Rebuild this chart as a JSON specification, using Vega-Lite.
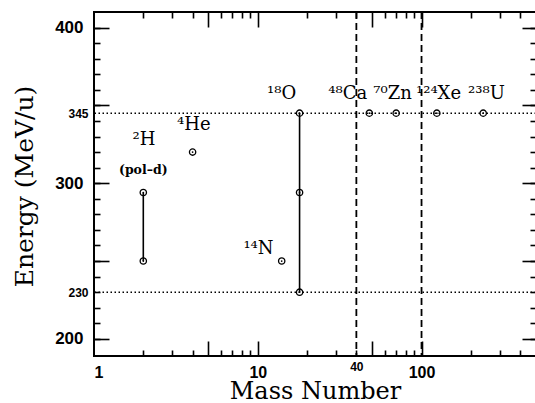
{
  "$schema": "https://vega.github.io/schema/vega-lite/v6.json",
  "autosize": "none",
  "width": 442,
  "height": 344,
  "padding": {"left": 94, "top": 12, "right": 0, "bottom": 47},
  "background": "white",
  "config": {
    "view": {"stroke": "black", "strokeWidth": 2},
    "axis": {
      "domain": false,
      "grid": false,
      "tickColor": "black",
      "tickWidth": 1.6,
      "labelFont": "Liberation Sans",
      "labelFontWeight": "bold",
      "labelColor": "black",
      "titleFont": "DejaVu Serif",
      "titleFontWeight": "normal",
      "titleColor": "black",
      "titleFontSize": 25
    }
  },
  "datasets": {
    "points": [
      {"m": 2, "e": 294}, {"m": 2, "e": 250}, {"m": 4, "e": 320}, {"m": 14, "e": 250},
      {"m": 18, "e": 345}, {"m": 18, "e": 294}, {"m": 18, "e": 230},
      {"m": 48, "e": 345}, {"m": 70, "e": 345}, {"m": 124, "e": 345}, {"m": 238, "e": 345}
    ],
    "segments": [{"m": 2, "e1": 250, "e2": 294}, {"m": 18, "e1": 230, "e2": 345}],
    "labels": [
      {"t": "²H", "m": 2.02, "e": 324.6},
      {"t": "⁴He", "m": 4.07, "e": 334.3},
      {"t": "¹⁴N", "m": 10.1, "e": 254.6},
      {"t": "¹⁸O", "m": 14, "e": 354.1},
      {"t": "⁴⁸Ca", "m": 35.4, "e": 354.1},
      {"t": "⁷⁰Zn", "m": 66.5, "e": 354.1},
      {"t": "¹²⁴Xe", "m": 127, "e": 354.1},
      {"t": "²³⁸U", "m": 249, "e": 354.1}
    ],
    "sublabel": [{"t": "(pol–d)", "m": 2.0, "e": 306}],
    "hlines": [{"e": 345}, {"e": 230}],
    "vlines": [{"m": 40}, {"m": 100}]
  },
  "resolve": {"axis": {"x": "independent", "y": "independent"}},
  "layer": [
    {
      "data": {"name": "hlines"},
      "mark": {"type": "rule", "color": "black", "strokeWidth": 1.5, "strokeDash": [1.5, 2.5]},
      "encoding": {
        "y": {"field": "e", "type": "quantitative",
          "scale": {"domain": [189, 410], "nice": false, "zero": false},
          "axis": {"orient": "right", "values": [200, 250, 300, 350, 400], "tickSize": -14, "labels": false, "title": null}}
      }
    },
    {
      "data": {"name": "vlines"},
      "mark": {"type": "rule", "color": "black", "strokeWidth": 1.8, "strokeDash": [7, 4]},
      "encoding": {
        "x": {"field": "m", "type": "quantitative",
          "scale": {"type": "log", "domain": [1, 500], "nice": false},
          "axis": {"orient": "top", "values": [5, 10, 50, 100], "tickSize": -15, "labels": false, "title": null}}
      }
    },
    {
      "data": {"name": "segments"},
      "mark": {"type": "rule", "color": "black", "strokeWidth": 1.6},
      "encoding": {
        "x": {"field": "m", "type": "quantitative",
          "scale": {"type": "log", "domain": [1, 500], "nice": false},
          "axis": {"orient": "bottom", "values": [5, 10, 50, 100], "tickSize": -15, "labels": false, "title": null}},
        "y": {"field": "e1", "type": "quantitative",
          "scale": {"domain": [189, 410], "nice": false, "zero": false},
          "axis": {"orient": "left", "values": [200, 250, 300, 350, 400], "tickSize": -15, "labels": false, "title": null}},
        "y2": {"field": "e2"}
      }
    },
    {
      "data": {"name": "points"},
      "mark": {"type": "point", "shape": "circle", "filled": false, "stroke": "black", "strokeWidth": 1.3, "size": 40, "opacity": 1},
      "encoding": {
        "x": {"field": "m", "type": "quantitative",
          "scale": {"type": "log", "domain": [1, 500], "nice": false},
          "axis": {"orient": "bottom", "values": [1, 10, 100], "ticks": false, "tickSize": 0, "labelPadding": 8, "labelFontSize": 16,
            "title": "Mass Number", "titleFontSize": 24, "titleX": 221, "titleY": 42, "titleBaseline": "alphabetic", "titleAlign": "center"}},
        "y": {"field": "e", "type": "quantitative",
          "scale": {"domain": [189, 410], "nice": false, "zero": false},
          "axis": {"orient": "left", "values": [200, 300, 400], "ticks": false, "tickSize": 0, "labelPadding": 11, "labelFontSize": 17,
            "title": "Energy (MeV/u)", "titleX": -62, "titleY": 174, "titleAngle": 270, "titleBaseline": "alphabetic", "titleAlign": "center"}}
      }
    },
    {
      "data": {"name": "points"},
      "mark": {"type": "point", "shape": "circle", "filled": true, "color": "black", "size": 3, "opacity": 1},
      "encoding": {
        "x": {"field": "m", "type": "quantitative",
          "scale": {"type": "log", "domain": [1, 500], "nice": false},
          "axis": {"orient": "bottom", "values": [40], "ticks": false, "tickSize": 0, "labelPadding": 5, "labelFontSize": 12, "title": null}},
        "y": {"field": "e", "type": "quantitative",
          "scale": {"domain": [189, 410], "nice": false, "zero": false},
          "axis": {"orient": "left", "values": [230, 345], "ticks": false, "tickSize": 0, "labelPadding": 6, "labelFontSize": 12, "title": null}}
      }
    },
    {
      "data": {"name": "labels"},
      "mark": {"type": "text", "font": "DejaVu Serif", "fontSize": 18, "align": "center", "baseline": "alphabetic", "color": "black"},
      "encoding": {
        "x": {"field": "m", "type": "quantitative",
          "scale": {"type": "log", "domain": [1, 500], "nice": false},
          "axis": {"orient": "bottom", "values": [2, 3, 4, 6, 7, 8, 9, 20, 30, 40, 60, 70, 80, 90, 200, 300, 400], "tickSize": -6, "labels": false, "title": null}},
        "y": {"field": "e", "type": "quantitative",
          "scale": {"domain": [189, 410], "nice": false, "zero": false},
          "axis": {"orient": "left", "values": [200, 210, 220, 230, 240, 250, 260, 270, 280, 290, 300, 310, 320, 330, 340, 350, 360, 370, 380, 390, 400], "tickSize": -6, "labels": false, "title": null}},
        "text": {"field": "t", "type": "nominal"}
      }
    },
    {
      "data": {"name": "sublabel"},
      "mark": {"type": "text", "font": "DejaVu Serif", "fontWeight": "bold", "fontSize": 12.5, "align": "center", "baseline": "alphabetic", "color": "black"},
      "encoding": {
        "x": {"field": "m", "type": "quantitative",
          "scale": {"type": "log", "domain": [1, 500], "nice": false},
          "axis": {"orient": "top", "values": [2, 3, 4, 6, 7, 8, 9, 20, 30, 40, 60, 70, 80, 90, 200, 300, 400], "tickSize": -6, "labels": false, "title": null}},
        "y": {"field": "e", "type": "quantitative",
          "scale": {"domain": [189, 410], "nice": false, "zero": false},
          "axis": {"orient": "right", "values": [200, 210, 220, 230, 240, 250, 260, 270, 280, 290, 300, 310, 320, 330, 340, 350, 360, 370, 380, 390, 400], "tickSize": -6, "labels": false, "title": null}},
        "text": {"field": "t", "type": "nominal"}
      }
    }
  ]
}
